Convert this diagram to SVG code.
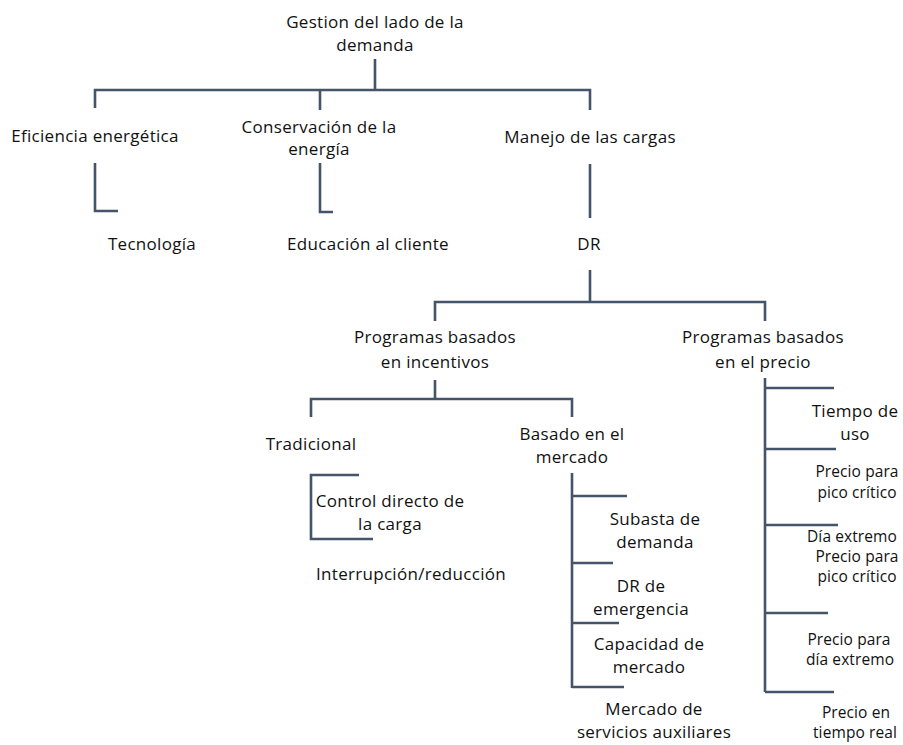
<svg xmlns="http://www.w3.org/2000/svg" width="903" height="745" viewBox="0 0 903 745">
<style>
text{font-family:"Open Sans","Noto Sans",sans-serif;font-size:17px;letter-spacing:0.3px;fill:#111;text-anchor:middle}
.s{font-size:15.5px;letter-spacing:0.1px}
#connectors path{fill:none;stroke:#44546a;stroke-width:2.6}
</style>
<rect width="903" height="745" fill="#fff"/>
<g id="connectors">
<path d="M375,59V90M95,108V90H590V110M320,90V110"/>
<path d="M95,163V211H118M320,163V212H333"/>
<path d="M590,164V218"/>
<path d="M590,270V302M435,321V302H765V321"/>
<path d="M435,380V399M311,417V399H572V417"/>
<path d="M359,475H311V539H373"/>
<path d="M572,473V688M572,496H627M572,563H613M572,623H619M572,687H624"/>
<path d="M765,378V692M765,388H834M765,449H836M765,525H838M765,613H828M765,692H834"/>
</g>
<g id="n-root"><text x="375" y="28">Gestion del lado de la</text><text x="375" y="51">demanda</text></g>
<g id="n-eficiencia"><text x="95" y="142">Eficiencia energética</text></g>
<g id="n-conservacion"><text x="319" y="133">Conservación de la</text><text x="319" y="155">energía</text></g>
<g id="n-manejo"><text x="590" y="143">Manejo de las cargas</text></g>
<g id="n-tecnologia"><text x="152" y="250">Tecnología</text></g>
<g id="n-educacion"><text x="368" y="250">Educación al cliente</text></g>
<g id="n-dr"><text x="589" y="250">DR</text></g>
<g id="n-incentivos"><text x="435" y="343">Programas basados</text><text x="435" y="368">en incentivos</text></g>
<g id="n-precio"><text x="763" y="343">Programas basados</text><text x="763" y="368">en el precio</text></g>
<g id="n-tradicional"><text x="311" y="450">Tradicional</text></g>
<g id="n-mercado"><text x="572" y="440">Basado en el</text><text x="572" y="463">mercado</text></g>
<g id="n-control"><text x="390" y="507">Control directo de</text><text x="390" y="530">la carga</text></g>
<g id="n-interrupcion"><text x="411" y="580">Interrupción/reducción</text></g>
<g id="n-subasta"><text x="655" y="525">Subasta de</text><text x="655" y="548">demanda</text></g>
<g id="n-emergencia"><text x="641" y="592">DR de</text><text x="641" y="615">emergencia</text></g>
<g id="n-capacidad"><text x="649" y="650">Capacidad de</text><text x="649" y="673">mercado</text></g>
<g id="n-auxiliares"><text x="654" y="715">Mercado de</text><text x="654" y="738">servicios auxiliares</text></g>
<g id="n-tiempo-uso"><text x="855" y="417">Tiempo de</text><text x="855" y="440">uso</text></g>
<g id="n-pico1"><text class="s" x="857" y="477">Precio para</text><text class="s" x="857" y="498">pico crítico</text></g>
<g id="n-pico2"><text class="s" x="852" y="542">Día extremo</text><text class="s" x="857" y="562">Precio para</text><text class="s" x="857" y="582">pico crítico</text></g>
<g id="n-dia"><text class="s" x="849" y="645">Precio para</text><text class="s" x="850" y="665">día extremo</text></g>
<g id="n-tiempo-real"><text class="s" x="856" y="718">Precio en</text><text class="s" x="855" y="738">tiempo real</text></g>
</svg>
